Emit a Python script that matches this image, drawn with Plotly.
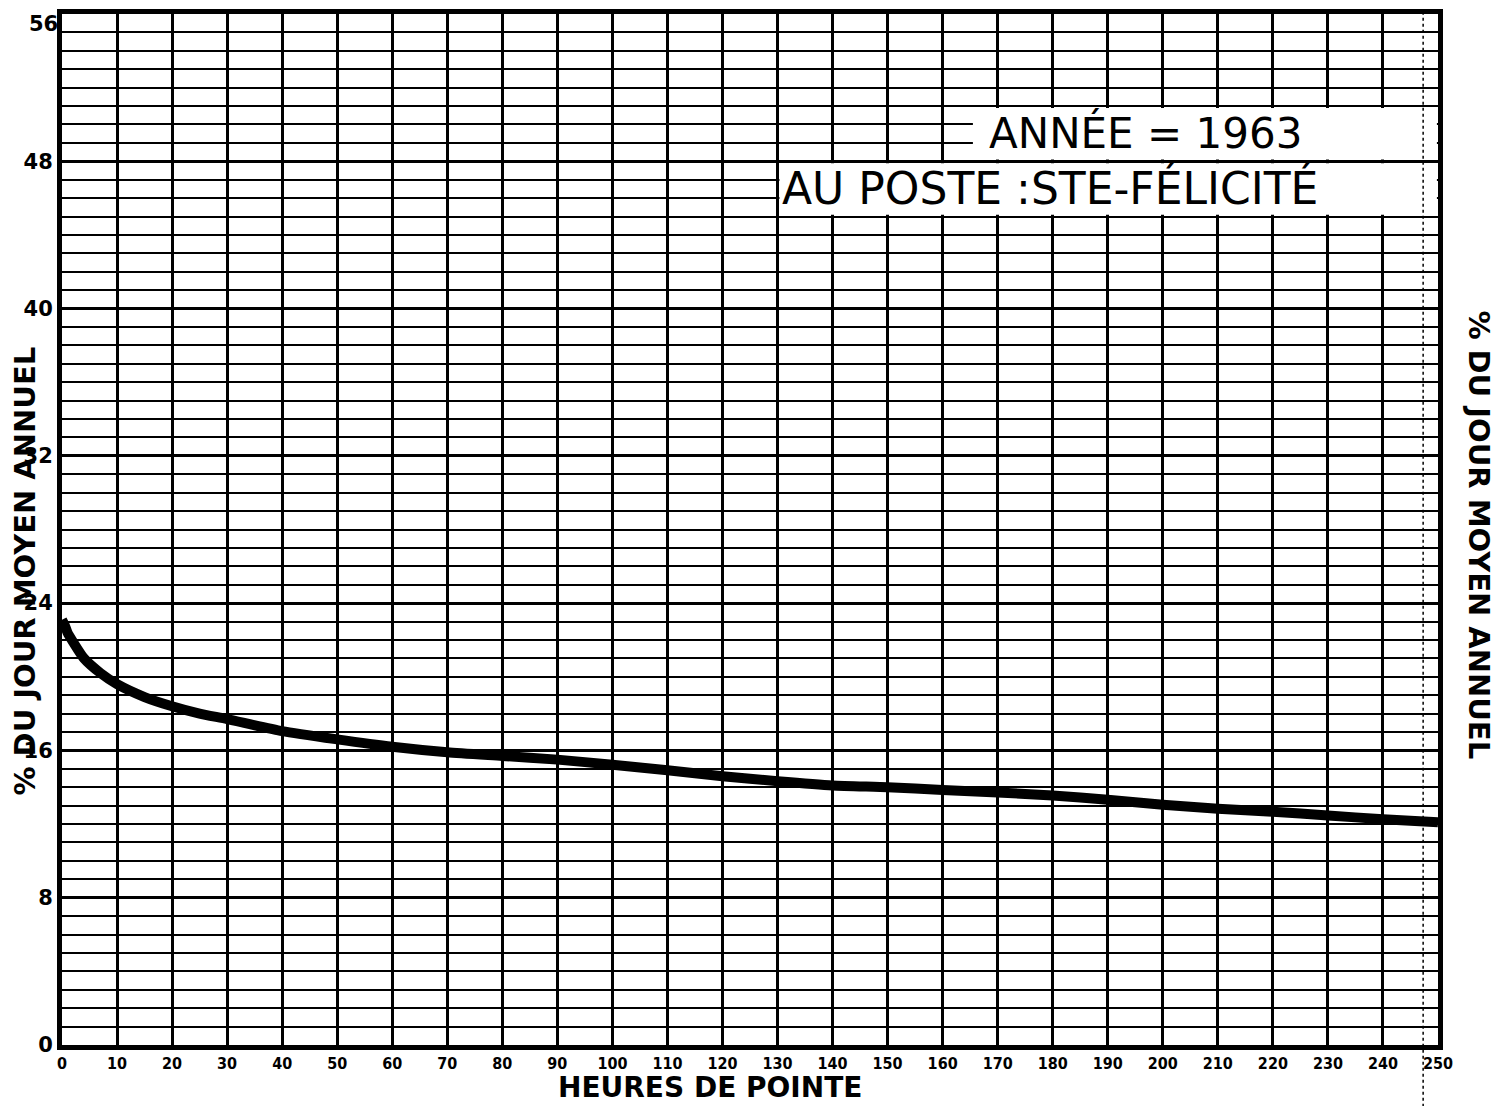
import plotly.graph_objects as go

# --- data ---
heures = [0, 0.5, 1, 2, 4, 7, 10, 15, 20, 25, 30, 40, 50, 60, 70, 80, 90, 100,
          110, 120, 130, 140, 150, 160, 170, 180, 190, 200, 210, 220, 230, 240, 250]
pct_jour = [23.1, 22.8, 22.4, 21.9, 21.0, 20.2, 19.6, 18.9, 18.4, 18.0, 17.7, 17.05,
            16.6, 16.2, 15.9, 15.7, 15.5, 15.22, 14.92, 14.6, 14.33, 14.1, 14.0,
            13.85, 13.72, 13.55, 13.32, 13.05, 12.83, 12.67, 12.47, 12.26, 12.1]

x_ticks = list(range(0, 251, 10))
x_ticktext = [str(v) for v in x_ticks]
y_ticks = [0, 8, 16, 24, 32, 40, 48]
y_ticktext = [str(v) for v in y_ticks]
y_top = 56
y_top_text = "56"

title_annee = "ANNÉE = 1963"
title_poste = "AU POSTE :STE-FÉLICITÉ"
axis_title = "% DU JOUR MOYEN ANNUEL"
x_title = "HEURES DE POINTE"

FONT = "DejaVu Sans"
FONT_C = "DejaVu Sans Condensed"

fig = go.Figure()
fig.add_trace(go.Scatter(
    x=heures, y=pct_jour, mode="lines",
    line=dict(color="black", width=10, shape="spline", smoothing=0.6),
    hoverinfo="skip", showlegend=False,
))

# white label boxes over the grid
fig.add_shape(type="rect", xref="x", yref="y", x0=165.5, x1=249.8, y0=48.1, y1=50.9,
              fillcolor="white", line=dict(width=0), layer="above")
fig.add_shape(type="rect", xref="x", yref="y", x0=130.35, x1=249.8, y0=45.1, y1=47.9,
              fillcolor="white", line=dict(width=0), layer="above")
# faint scan dashed line near right border
fig.add_shape(type="line", xref="x", yref="paper", x0=247.3, x1=247.3, y0=-0.06, y1=1,
              line=dict(color="black", width=1.5, dash="dot"), layer="above")

fig.add_annotation(x=168, y=49.55, xref="x", yref="y", text=title_annee, showarrow=False,
                   xanchor="left", yanchor="middle",
                   font=dict(family=FONT, size=42, color="black"))
fig.add_annotation(x=130.5, y=46.55, xref="x", yref="y", text=title_poste, showarrow=False,
                   xanchor="left", yanchor="middle",
                   font=dict(family=FONT, size=44, color="black"))

# top y tick label (kept inside the page)
fig.add_annotation(x=0, y=y_top, xref="paper", yref="y", text="<b>" + y_top_text + "</b>",
                   showarrow=False, xanchor="right", yanchor="top", xshift=-2, yshift=4,
                   font=dict(family=FONT, size=21, color="black"))

fig.add_annotation(x=-0.027, y=0.46, xref="paper", yref="paper", text="<b>" + axis_title + "</b>",
                   showarrow=False, textangle=-90, xanchor="center", yanchor="middle",
                   font=dict(family=FONT, size=29, color="black"))
fig.add_annotation(x=1.03, y=0.495, xref="paper", yref="paper", text="<b>" + axis_title + "</b>",
                   showarrow=False, textangle=90, xanchor="center", yanchor="middle",
                   font=dict(family=FONT, size=29, color="black"))
fig.add_annotation(x=0.471, y=-0.041, xref="paper", yref="paper", text="<b>" + x_title + "</b>",
                   showarrow=False, xanchor="center", yanchor="middle",
                   font=dict(family=FONT, size=28, color="black"))

# page body has an 8px margin: size the figure to fit the window
fig.update_layout(
    width=1495, height=1098,
    margin=dict(l=54, r=65, t=6, b=61, autoexpand=False),
    paper_bgcolor="white", plot_bgcolor="white",
    xaxis=dict(range=[0, 250], tickvals=x_ticks, ticktext=x_ticktext,
               showgrid=True, gridcolor="black", gridwidth=3, automargin=False,
               showline=True, linecolor="black", linewidth=5, mirror=True,
               ticks="", zeroline=False,
               tickfont=dict(family=FONT_C, size=16, color="black", weight="bold")),
    yaxis=dict(range=[0, 56], tickvals=y_ticks, ticktext=y_ticktext,
               showgrid=True, gridcolor="black", gridwidth=3, automargin=False,
               minor=dict(dtick=1, showgrid=True, gridcolor="black", gridwidth=2, tick0=0),
               showline=True, linecolor="black", linewidth=5, mirror=True,
               ticks="", zeroline=False,
               tickfont=dict(family=FONT, size=21, color="black", weight="bold")),
)

fig.write_html("out.html")
